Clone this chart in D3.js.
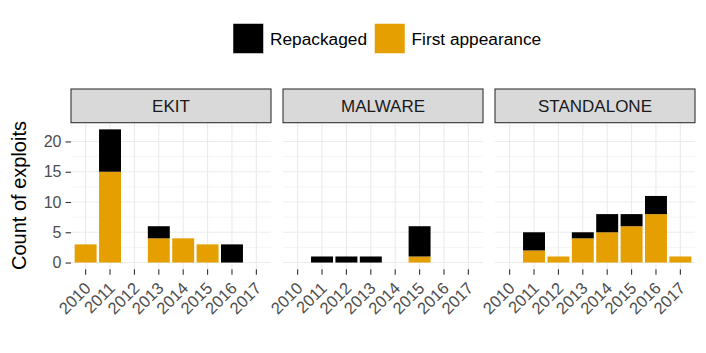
<!DOCTYPE html>
<html>
<head>
<meta charset="utf-8">
<script src="https://cdn.jsdelivr.net/npm/d3@7"></script>
<style>
  html, body { margin: 0; padding: 0; background: #fff; }
  svg { display: block; }
  svg text { font-family: "Liberation Sans", Arial, sans-serif; }
</style>
</head>
<body>
<div id="chart"></div>
<script>
const years = ["2010", "2011", "2012", "2013", "2014", "2015", "2016", "2017"];
const facets = ["EKIT", "MALWARE", "STANDALONE"];
const seriesKeys = ["first", "repack"];
const seriesLabels = ["First appearance", "Repackaged"];

const ekitFirst = [3, 15, 0, 4, 4, 3, 0, 0];
const ekitRepack = [0, 7, 0, 2, 0, 0, 3, 0];
const malwareFirst = [0, 0, 0, 0, 0, 1, 0, 0];
const malwareRepack = [0, 1, 1, 1, 0, 5, 0, 0];
const standaloneFirst = [0, 2, 1, 4, 5, 6, 8, 1];
const standaloneRepack = [0, 3, 0, 1, 3, 2, 3, 0];

const yTicks = [0, 5, 10, 15, 20];
const yMinor = [2.5, 7.5, 12.5, 17.5, 22.5];

const facetData = {
  EKIT: [ekitFirst, ekitRepack],
  MALWARE: [malwareFirst, malwareRepack],
  STANDALONE: [standaloneFirst, standaloneRepack]
};

const width = 706;
const height = 353;
const panelLefts = [71, 283, 495];
const panelWidth = 200;
const stripTop = 89;
const stripBottom = 122.7;
const panelBottom = 269.2;

const color = d3.scaleOrdinal().domain(seriesKeys).range(["#E69F00", "#000000"]);

const svg = d3.create("svg")
  .attr("viewBox", [0, 0, width, height])
  .attr("width", width)
  .attr("height", height);

const y = d3.scaleLinear().domain([-1.1, 23.1]).range([panelBottom, stripBottom]);

const stack = d3.stack().keys(seriesKeys);

facets.forEach((facet, fi) => {
  const x0 = panelLefts[fi];
  const x = d3.scaleBand()
    .domain(years)
    .range([x0, x0 + panelWidth])
    .paddingInner(0.1)
    .paddingOuter(0.15);

  const rows = years.map((yr, i) => ({
    year: yr,
    first: facetData[facet][0][i],
    repack: facetData[facet][1][i]
  }));

  const g = svg.append("g");

  // gridlines
  g.selectAll("line.minor")
    .data(yMinor)
    .join("line")
    .attr("x1", x0).attr("x2", x0 + panelWidth)
    .attr("y1", (d) => y(d)).attr("y2", (d) => y(d))
    .attr("stroke", "#EBEBEB").attr("stroke-width", 0.55);

  g.selectAll("line.major")
    .data(yTicks)
    .join("line")
    .attr("x1", x0).attr("x2", x0 + panelWidth)
    .attr("y1", (d) => y(d)).attr("y2", (d) => y(d))
    .attr("stroke", "#EBEBEB").attr("stroke-width", 1.1);

  g.selectAll("line.vmajor")
    .data(years)
    .join("line")
    .attr("x1", (d) => x(d) + x.bandwidth() / 2).attr("x2", (d) => x(d) + x.bandwidth() / 2)
    .attr("y1", stripBottom).attr("y2", panelBottom)
    .attr("stroke", "#EBEBEB").attr("stroke-width", 1.1);

  // bars
  g.selectAll("g.series")
    .data(stack(rows))
    .join("g")
    .attr("fill", (d) => color(d.key))
    .selectAll("rect")
    .data((d) => d.filter((s) => s[1] - s[0] > 0))
    .join("rect")
    .attr("x", (d) => x(d.data.year))
    .attr("width", x.bandwidth())
    .attr("y", (d) => y(d[1]))
    .attr("height", (d) => y(d[0]) - y(d[1]));

  // strip
  g.append("rect")
    .attr("x", x0).attr("y", stripTop)
    .attr("width", panelWidth).attr("height", stripBottom - stripTop)
    .attr("fill", "#D9D9D9").attr("stroke", "#333333").attr("stroke-width", 1.1);

  g.append("text")
    .attr("x", x0 + panelWidth / 2)
    .attr("y", (stripTop + stripBottom) / 2)
    .attr("dy", "0.36em")
    .attr("text-anchor", "middle")
    .attr("font-size", 17)
    .attr("fill", "#1A1A1A")
    .text(facet);

  // x axis
  const xAxis = g.append("g")
    .attr("transform", `translate(0,${panelBottom})`)
    .call(d3.axisBottom(x).tickSize(5.5).tickSizeOuter(0))
    .attr("font-family", null)
    .attr("font-size", null);
  xAxis.select(".domain").remove();
  xAxis.selectAll(".tick line").attr("stroke", "#333333").attr("stroke-width", 1.1);
  xAxis.selectAll(".tick text")
    .attr("font-size", 16.5)
    .attr("fill", "#4D4D4D")
    .attr("text-anchor", "end")
    .attr("y", 0)
    .attr("dy", 0)
    .attr("transform", "translate(6,20) rotate(-45)");

  // y axis on first panel
  if (fi === 0) {
    const yAxis = g.append("g")
      .attr("transform", `translate(${x0},0)`)
      .call(d3.axisLeft(y).tickValues(yTicks).tickSize(5.5).tickSizeOuter(0))
      .attr("font-family", null)
      .attr("font-size", null);
    yAxis.select(".domain").remove();
    yAxis.selectAll(".tick line").attr("stroke", "#333333").attr("stroke-width", 1.1);
    yAxis.selectAll(".tick text")
      .attr("font-size", 16)
      .attr("fill", "#4D4D4D")
      .attr("x", -9.5);
  }
});

// y axis title
svg.append("text")
  .attr("transform", `translate(26,270) rotate(-90)`)
  .attr("text-anchor", "start")
  .attr("font-size", 20)
  .attr("fill", "#000")
  .text("Count of exploits");

// legend
const legendItems = [
  { key: "repack", label: seriesLabels[1], x: 233 },
  { key: "first", label: seriesLabels[0], x: 374.5 }
];

const legend = svg.append("g");
const lg = legend.selectAll("g")
  .data(legendItems)
  .join("g")
  .attr("transform", (d) => `translate(${d.x},23.5)`);

lg.append("rect")
  .attr("width", 30.5).attr("height", 30)
  .attr("fill", (d) => color(d.key))
  .attr("stroke", "#fff").attr("stroke-width", 0.5);

lg.append("text")
  .attr("x", 37)
  .attr("y", 15)
  .attr("dy", "0.36em")
  .attr("font-size", 17.3)
  .attr("fill", "#000")
  .text((d) => d.label);

d3.select("#chart").append(() => svg.node());
</script>
</body>
</html>
